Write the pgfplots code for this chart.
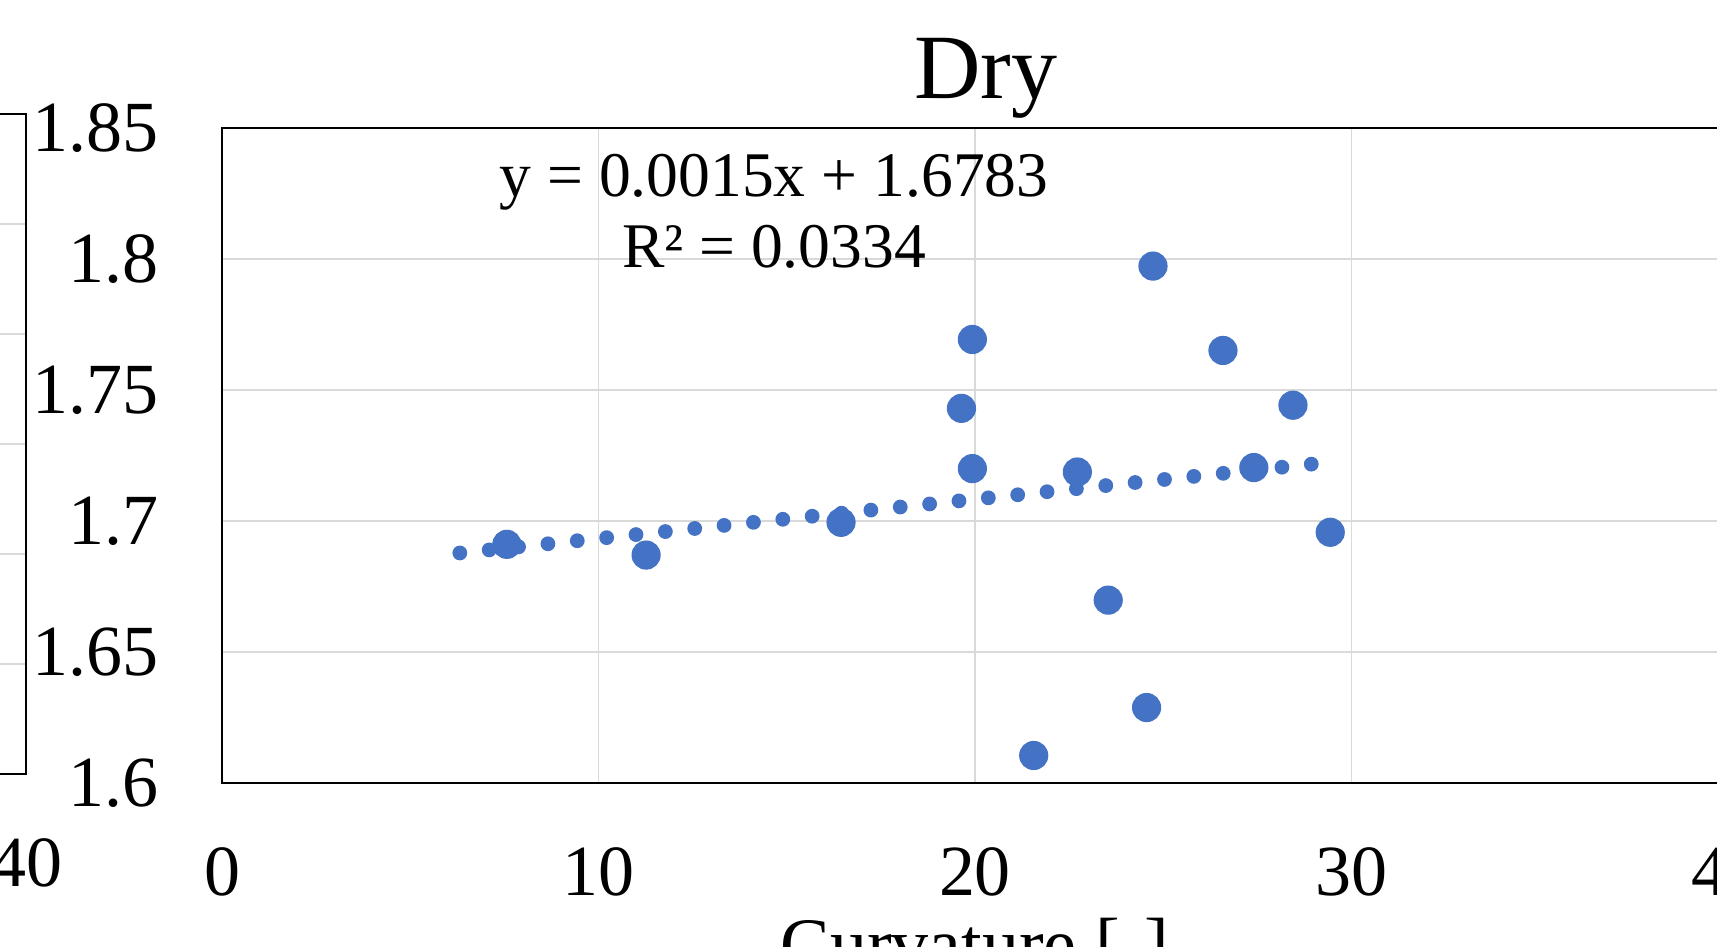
\documentclass[border=0pt]{standalone}
\usepackage{pgfplots}
\pgfplotsset{compat=1.18}
\usepackage{fontspec}
\setmainfont{Liberation Serif}
\definecolor{excelblue}{HTML}{4472C4}
\definecolor{gridgray}{HTML}{D9D9D9}
\begin{document}
\begin{tikzpicture}
\useasboundingbox (0,0) rectangle (429.25pt,236.5pt);
\clip (0,0) rectangle (429.25pt,236.5pt);
\pgfplotsset{
  common/.style={
    scale only axis,
    axis line style={black, line width=0.5pt},
    major tick length=0pt,
    grid=major,
    major grid style={gridgray, line width=0.4pt},
    tick label style={font=\fontsize{18}{18}\selectfont},
    /pgf/number format/assume math mode=true,
    xmin=0, xmax=40, xtick={0,10,20,30,40},
    xticklabels={0,10,20,30,40},
    xticklabel style={yshift=-12.7pt},
  }
}
% neighbouring chart, only its right edge visible
\begin{axis}[common, at={(6.5pt,43pt)}, anchor=south east,
  width=376.3pt, height=165pt, ymin=0, ymax=6, ytick={0,1,2,3,4,5,6}, yticklabels={}]
\end{axis}
\begin{axis}[common, at={(55.6pt,40.75pt)}, anchor=south west,
  width=376.3pt, height=163.75pt,
  ymin=1.6, ymax=1.85,
  ytick={1.6,1.65,1.7,1.75,1.8,1.85},
  yticklabels={1.6,1.65,1.7,1.75,1.8,1.85},
  yticklabel style={xshift=-12.5pt},
  title={Dry},
  title style={font=\fontsize{23}{23}\selectfont, at={(axis description cs:0.507,1)}, anchor=base, yshift=1.3pt},
  xlabel={Curvature [-]},
  xlabel style={font=\fontsize{18.5}{18.5}\selectfont, at={(axis description cs:0.5,0)}, anchor=base, yshift=-46.5pt},
  clip=false]
\addplot[excelblue, line width=3.7pt, line cap=round, dash pattern=on 0pt off 7.38pt]
  coordinates {(6.31,1.6878) (29.0,1.7218)};
\addplot[only marks, mark=*, mark size=3.45pt, excelblue, mark options={fill=excelblue, draw=excelblue}]
  coordinates {
  (7.56,1.6911) (11.26,1.6870) (16.44,1.6995) (19.64,1.7430) (19.93,1.7693)
  (19.93,1.7200) (21.56,1.6105) (22.72,1.7187) (23.54,1.6698) (24.56,1.6288)
  (24.73,1.7973) (26.59,1.7651) (27.41,1.7204) (28.45,1.7442) (29.44,1.6957)
  };
\node[anchor=base, font=\fontsize{15.9}{15.9}\selectfont] at (axis cs:14.66,1.8237) {y = 0.0015x + 1.6783};
\node[anchor=base, font=\fontsize{15.9}{15.9}\selectfont] at (axis cs:14.66,1.7966) {R² = 0.0334};
\end{axis}
\end{tikzpicture}
\end{document}
